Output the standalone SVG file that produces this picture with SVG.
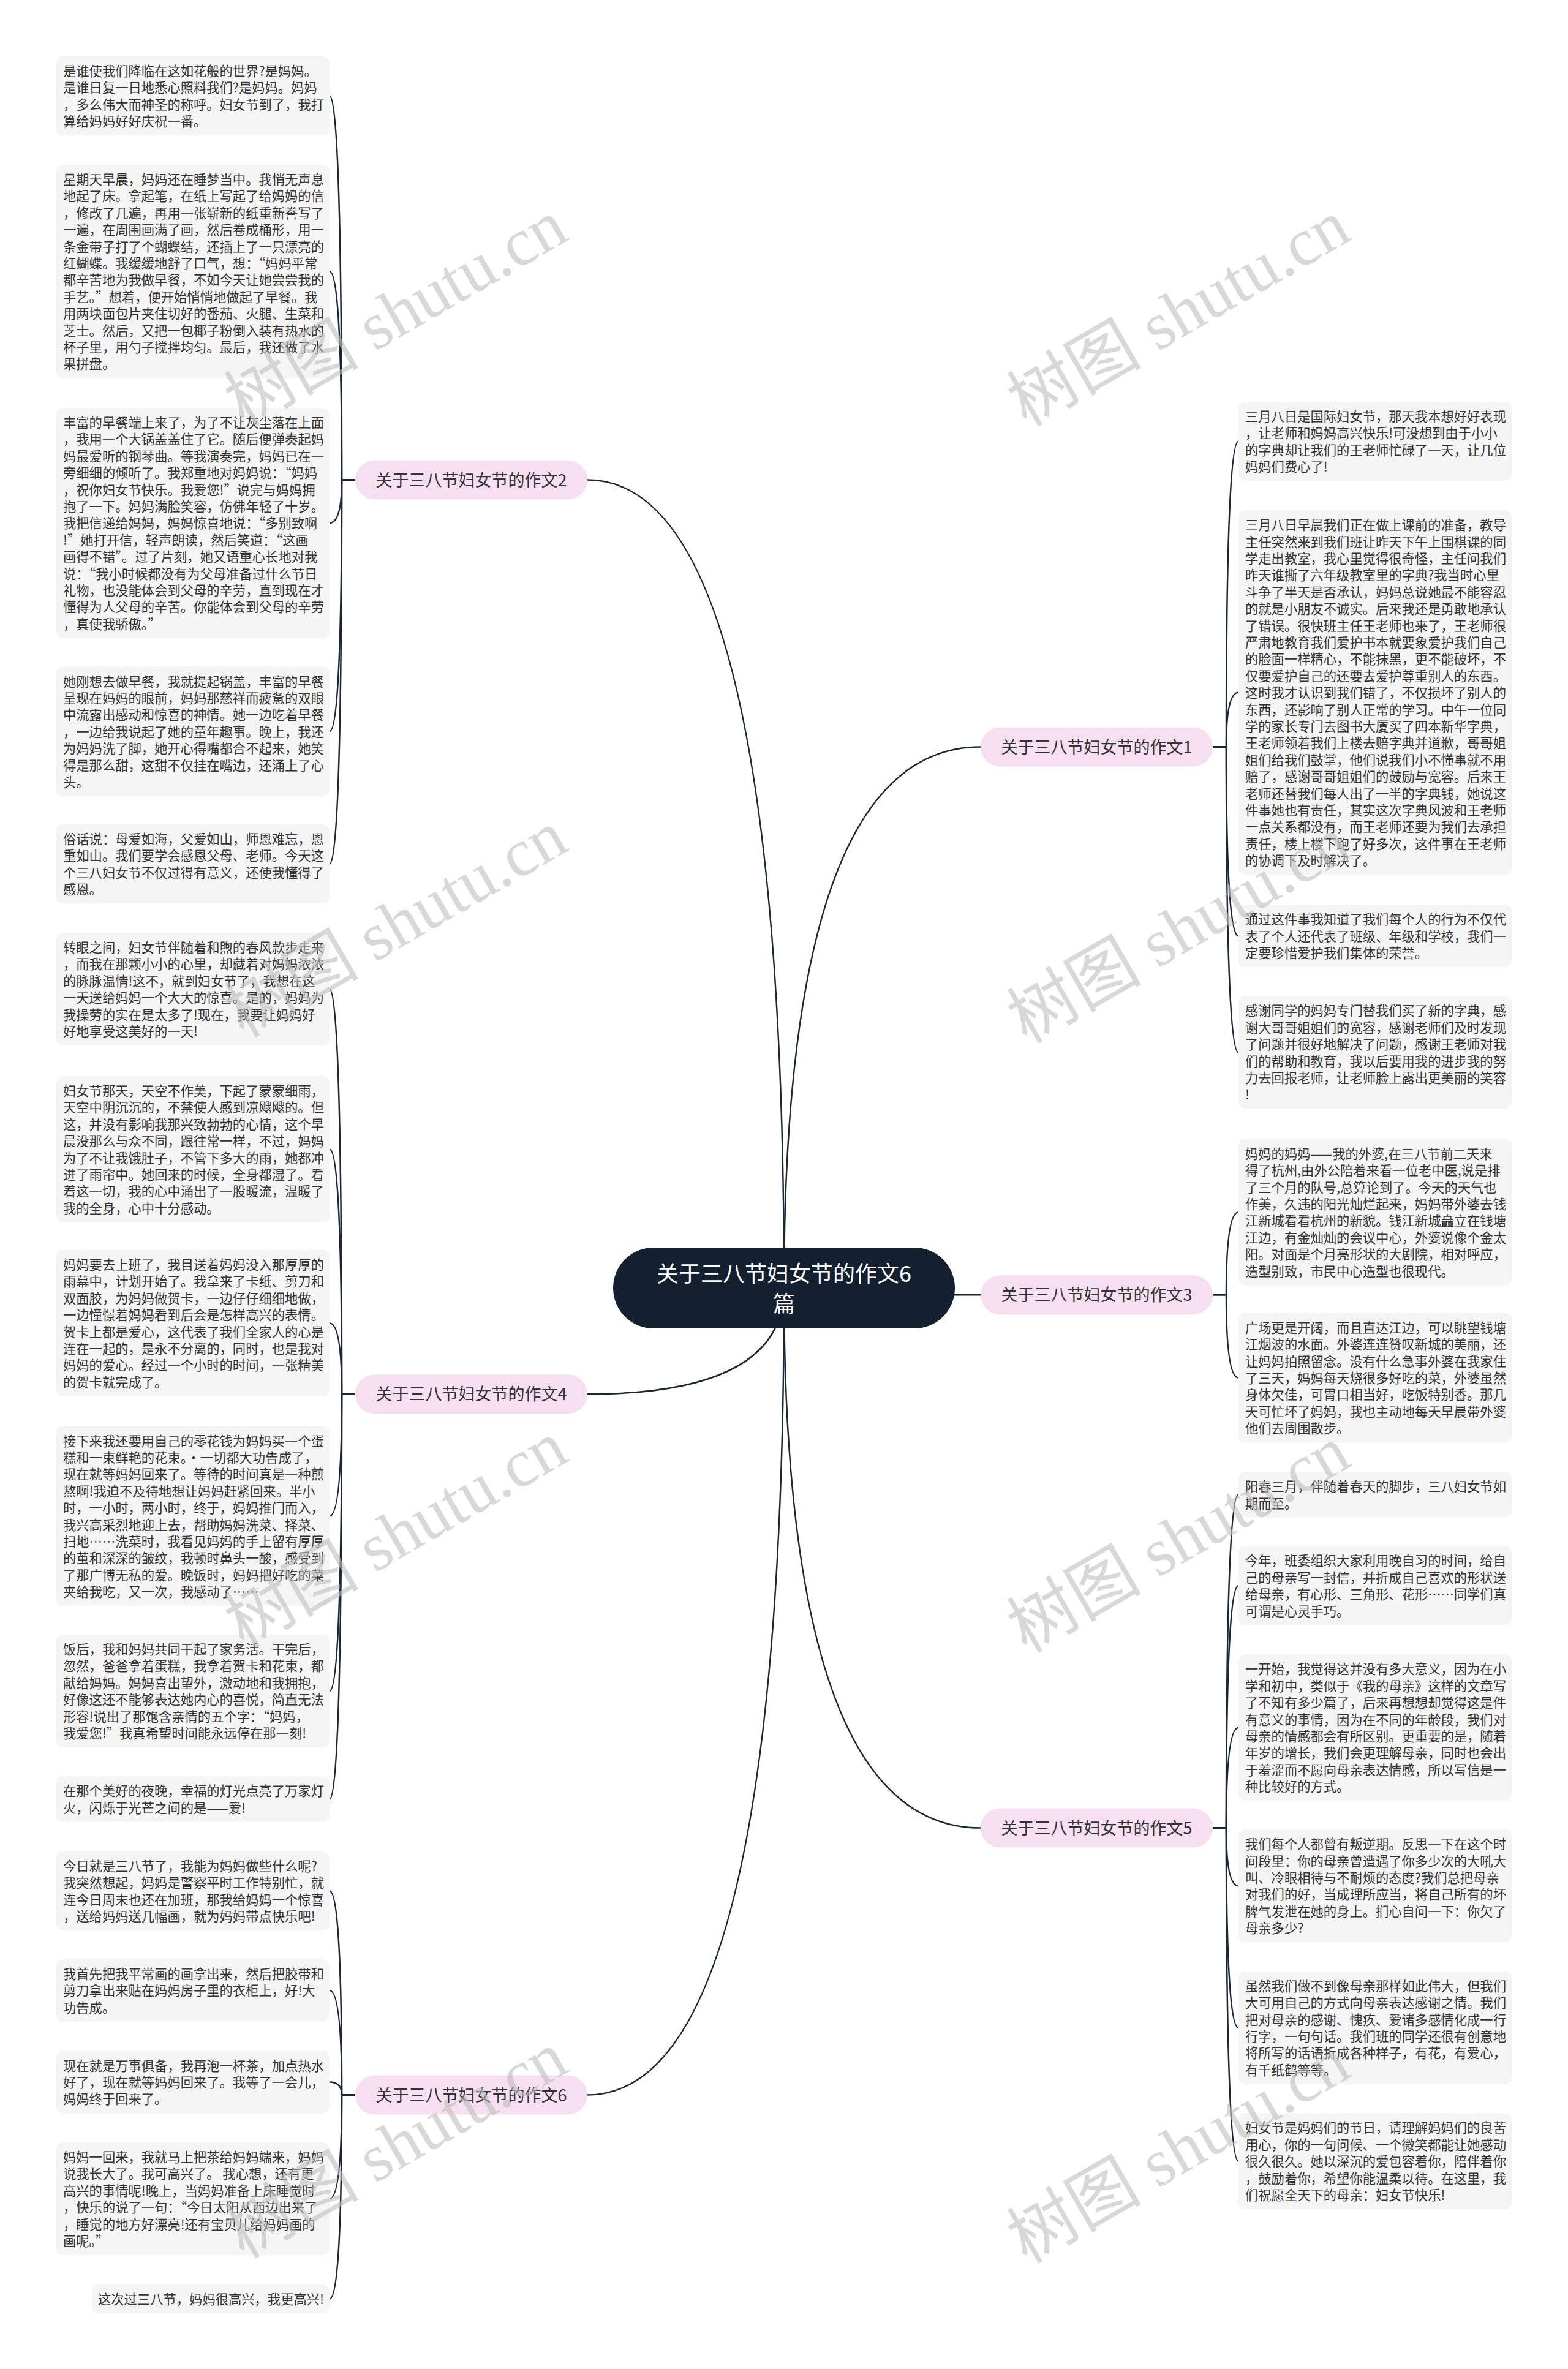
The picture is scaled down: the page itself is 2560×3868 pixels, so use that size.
<svg xmlns="http://www.w3.org/2000/svg" width="2560" height="3868" viewBox="0 0 2560 3868">
<style>
.bg{fill:#ffffff}
.box{fill:#f5f5f5}
.t{font-family:"Noto Sans CJK SC","Liberation Sans",sans-serif;font-size:21.3px;fill:#333333}
.br{fill:#f6dff0}
.bt{font-family:"Noto Sans CJK SC","Liberation Sans",sans-serif;font-size:27px;fill:#333333;text-anchor:middle}
.cn{fill:#142030}
.ct{font-family:"Noto Sans CJK SC","Liberation Sans",sans-serif;font-size:36px;fill:#ffffff;text-anchor:middle}
.ln{fill:none;stroke:#1b2636;stroke-width:2.5}
.wm{font-family:"Liberation Serif","Noto Sans CJK SC",serif;font-size:110px;fill:#bfbfbf;opacity:0.6;text-anchor:middle}
</style>
<rect class="bg" x="0" y="0" width="2560" height="3868"/>
<g id="connectors">
<path class="ln" d="M1280,2103 Q1280,1219.5 1601,1219.5"/>
<path class="ln" d="M1280,2103 Q1280,2114.3 1601,2114.3"/>
<path class="ln" d="M1280,2103 Q1280,2984.6 1601,2984.6"/>
<path class="ln" d="M1280,2103 Q1280,783.6 959,783.6"/>
<path class="ln" d="M1280,2103 Q1280,2276.3 959,2276.3"/>
<path class="ln" d="M1280,2103 Q1280,3420.5 959,3420.5"/>
<path class="ln" d="M580,783.6 L558,783.6 Q558,156.6 538,156.6"/>
<path class="ln" d="M580,783.6 L558,783.6 Q558,443.2 538,443.2"/>
<path class="ln" d="M580,783.6 L558,783.6 Q558,853.9 538,853.9"/>
<path class="ln" d="M580,783.6 L558,783.6 Q558,1194.2 538,1194.2"/>
<path class="ln" d="M580,783.6 L558,783.6 Q558,1410.6 538,1410.6"/>
<path class="ln" d="M580,2276.3 L558,2276.3 Q558,1615 538,1615"/>
<path class="ln" d="M580,2276.3 L558,2276.3 Q558,1876.4 538,1876.4"/>
<path class="ln" d="M580,2276.3 L558,2276.3 Q558,2160.4 538,2160.4"/>
<path class="ln" d="M580,2276.3 L558,2276.3 Q558,2475.4 538,2475.4"/>
<path class="ln" d="M580,2276.3 L558,2276.3 Q558,2761 538,2761"/>
<path class="ln" d="M580,2276.3 L558,2276.3 Q558,2937.6 538,2937.6"/>
<path class="ln" d="M580,3420.5 L558,3420.5 Q558,3087.6 538,3087.6"/>
<path class="ln" d="M580,3420.5 L558,3420.5 Q558,3249.9 538,3249.9"/>
<path class="ln" d="M580,3420.5 L558,3420.5 Q558,3399.5 538,3399.5"/>
<path class="ln" d="M580,3420.5 L558,3420.5 Q558,3590 538,3590"/>
<path class="ln" d="M580,3420.5 L558,3420.5 Q558,3753.5 538,3753.5"/>
<path class="ln" d="M1980,1219.5 L2002,1219.5 Q2002,720.6 2022,720.6"/>
<path class="ln" d="M1980,1219.5 L2002,1219.5 Q2002,1130.7 2022,1130.7"/>
<path class="ln" d="M1980,1219.5 L2002,1219.5 Q2002,1528.3 2022,1528.3"/>
<path class="ln" d="M1980,1219.5 L2002,1219.5 Q2002,1718.3 2022,1718.3"/>
<path class="ln" d="M1980,2114.3 L2002,2114.3 Q2002,1979.2 2022,1979.2"/>
<path class="ln" d="M1980,2114.3 L2002,2114.3 Q2002,2249.5 2022,2249.5"/>
<path class="ln" d="M1980,2984.6 L2002,2984.6 Q2002,2440.6 2022,2440.6"/>
<path class="ln" d="M1980,2984.6 L2002,2984.6 Q2002,2588.9 2022,2588.9"/>
<path class="ln" d="M1980,2984.6 L2002,2984.6 Q2002,2820.8 2022,2820.8"/>
<path class="ln" d="M1980,2984.6 L2002,2984.6 Q2002,3079.2 2022,3079.2"/>
<path class="ln" d="M1980,2984.6 L2002,2984.6 Q2002,3310.8 2022,3310.8"/>
<path class="ln" d="M1980,2984.6 L2002,2984.6 Q2002,3528.6 2022,3528.6"/>
</g>
<g id="root">
<rect class="cn" x="1001" y="2037" width="558" height="132" rx="66"/>
<text class="ct" x="1280" y="2093">关于三八节妇女节的作文6</text>
<text class="ct" x="1280" y="2142">篇</text>
</g>
<g id="branch1"><rect class="br" x="1601" y="1187.5" width="379" height="64" rx="32"/><text class="bt" x="1790.5" y="1229.5">关于三八节妇女节的作文1</text></g>
<g id="branch3"><rect class="br" x="1601" y="2082.3" width="379" height="64" rx="32"/><text class="bt" x="1790.5" y="2124.3">关于三八节妇女节的作文3</text></g>
<g id="branch5"><rect class="br" x="1601" y="2952.6" width="379" height="64" rx="32"/><text class="bt" x="1790.5" y="2994.6">关于三八节妇女节的作文5</text></g>
<g id="branch2"><rect class="br" x="580" y="751.6" width="379" height="64" rx="32"/><text class="bt" x="769.5" y="793.6">关于三八节妇女节的作文2</text></g>
<g id="branch4"><rect class="br" x="580" y="2244.3" width="379" height="64" rx="32"/><text class="bt" x="769.5" y="2286.3">关于三八节妇女节的作文4</text></g>
<g id="branch6"><rect class="br" x="580" y="3388.5" width="379" height="64" rx="32"/><text class="bt" x="769.5" y="3430.5">关于三八节妇女节的作文6</text></g>

<g id="a1"><rect class="box" x="92" y="92" width="446" height="129.2" rx="10"/>
<text class="t" y="124"><tspan x="103">是谁使我们降临在这如花般的世界?是妈妈。</tspan><tspan x="103" dy="27.4">是谁日复一日地悉心照料我们?是妈妈。妈妈</tspan><tspan x="103" dy="27.4">，多么伟大而神圣的称呼。妇女节到了，我打</tspan><tspan x="103" dy="27.4">算给妈妈好好庆祝一番。</tspan></text></g>
<g id="a2"><rect class="box" x="92" y="269" width="446" height="348.4" rx="10"/>
<text class="t" y="301"><tspan x="103">星期天早晨，妈妈还在睡梦当中。我悄无声息</tspan><tspan x="103" dy="27.4">地起了床。拿起笔，在纸上写起了给妈妈的信</tspan><tspan x="103" dy="27.4">，修改了几遍，再用一张崭新的纸重新誊写了</tspan><tspan x="103" dy="27.4">一遍，在周围画满了画，然后卷成桶形，用一</tspan><tspan x="103" dy="27.4">条金带子打了个蝴蝶结，还插上了一只漂亮的</tspan><tspan x="103" dy="27.4">红蝴蝶。我缓缓地舒了口气，想：“妈妈平常</tspan><tspan x="103" dy="27.4">都辛苦地为我做早餐，不如今天让她尝尝我的</tspan><tspan x="103" dy="27.4">手艺。”想着，便开始悄悄地做起了早餐。我</tspan><tspan x="103" dy="27.4">用两块面包片夹住切好的番茄、火腿、生菜和</tspan><tspan x="103" dy="27.4">芝士。然后，又把一包椰子粉倒入装有热水的</tspan><tspan x="103" dy="27.4">杯子里，用勺子搅拌均匀。最后，我还做了水</tspan><tspan x="103" dy="27.4">果拼盘。</tspan></text></g>
<g id="a3"><rect class="box" x="92" y="666" width="446" height="375.8" rx="10"/>
<text class="t" y="698"><tspan x="103">丰富的早餐端上来了，为了不让灰尘落在上面</tspan><tspan x="103" dy="27.4">，我用一个大锅盖盖住了它。随后便弹奏起妈</tspan><tspan x="103" dy="27.4">妈最爱听的钢琴曲。等我演奏完，妈妈已在一</tspan><tspan x="103" dy="27.4">旁细细的倾听了。我郑重地对妈妈说：“妈妈</tspan><tspan x="103" dy="27.4">，祝你妇女节快乐。我爱您!”说完与妈妈拥</tspan><tspan x="103" dy="27.4">抱了一下。妈妈满脸笑容，仿佛年轻了十岁。</tspan><tspan x="103" dy="27.4">我把信递给妈妈，妈妈惊喜地说：“多别致啊</tspan><tspan x="103" dy="27.4">!”她打开信，轻声朗读，然后笑道：“这画</tspan><tspan x="103" dy="27.4">画得不错”。过了片刻，她又语重心长地对我</tspan><tspan x="103" dy="27.4">说：“我小时候都没有为父母准备过什么节日</tspan><tspan x="103" dy="27.4">礼物，也没能体会到父母的辛劳，直到现在才</tspan><tspan x="103" dy="27.4">懂得为人父母的辛苦。你能体会到父母的辛劳</tspan><tspan x="103" dy="27.4">，真使我骄傲。”</tspan></text></g>
<g id="a4"><rect class="box" x="92" y="1088.5" width="446" height="211.4" rx="10"/>
<text class="t" y="1120.5"><tspan x="103">她刚想去做早餐，我就提起锅盖，丰富的早餐</tspan><tspan x="103" dy="27.4">呈现在妈妈的眼前，妈妈那慈祥而疲惫的双眼</tspan><tspan x="103" dy="27.4">中流露出感动和惊喜的神情。她一边吃着早餐</tspan><tspan x="103" dy="27.4">，一边给我说起了她的童年趣事。晚上，我还</tspan><tspan x="103" dy="27.4">为妈妈洗了脚，她开心得嘴都合不起来，她笑</tspan><tspan x="103" dy="27.4">得是那么甜，这甜不仅挂在嘴边，还涌上了心</tspan><tspan x="103" dy="27.4">头。</tspan></text></g>
<g id="a5"><rect class="box" x="92" y="1346" width="446" height="129.2" rx="10"/>
<text class="t" y="1378"><tspan x="103">俗话说：母爱如海，父爱如山，师恩难忘，恩</tspan><tspan x="103" dy="27.4">重如山。我们要学会感恩父母、老师。今天这</tspan><tspan x="103" dy="27.4">个三八妇女节不仅过得有意义，还使我懂得了</tspan><tspan x="103" dy="27.4">感恩。</tspan></text></g>

<g id="b1"><rect class="box" x="92" y="1523" width="446" height="184" rx="10"/>
<text class="t" y="1555"><tspan x="103">转眼之间，妇女节伴随着和煦的春风款步走来</tspan><tspan x="103" dy="27.4">，而我在那颗小小的心里，却藏着对妈妈浓浓</tspan><tspan x="103" dy="27.4">的脉脉温情!这不，就到妇女节了，我想在这</tspan><tspan x="103" dy="27.4">一天送给妈妈一个大大的惊喜。是的，妈妈为</tspan><tspan x="103" dy="27.4">我操劳的实在是太多了!现在，我要让妈妈好</tspan><tspan x="103" dy="27.4">好地享受这美好的一天!</tspan></text></g>
<g id="b2"><rect class="box" x="92" y="1757" width="446" height="238.8" rx="10"/>
<text class="t" y="1789"><tspan x="103">妇女节那天，天空不作美，下起了蒙蒙细雨，</tspan><tspan x="103" dy="27.4">天空中阴沉沉的，不禁使人感到凉飕飕的。但</tspan><tspan x="103" dy="27.4">这，并没有影响我那兴致勃勃的心情，这个早</tspan><tspan x="103" dy="27.4">晨没那么与众不同，跟往常一样，不过，妈妈</tspan><tspan x="103" dy="27.4">为了不让我饿肚子，不管下多大的雨，她都冲</tspan><tspan x="103" dy="27.4">进了雨帘中。她回来的时候，全身都湿了。看</tspan><tspan x="103" dy="27.4">着这一切，我的心中涌出了一股暖流，温暖了</tspan><tspan x="103" dy="27.4">我的全身，心中十分感动。</tspan></text></g>
<g id="b3"><rect class="box" x="92" y="2041" width="446" height="238.8" rx="10"/>
<text class="t" y="2073"><tspan x="103">妈妈要去上班了，我目送着妈妈没入那厚厚的</tspan><tspan x="103" dy="27.4">雨幕中，计划开始了。我拿来了卡纸、剪刀和</tspan><tspan x="103" dy="27.4">双面胶，为妈妈做贺卡，一边仔仔细细地做，</tspan><tspan x="103" dy="27.4">一边憧憬着妈妈看到后会是怎样高兴的表情。</tspan><tspan x="103" dy="27.4">贺卡上都是爱心，这代表了我们全家人的心是</tspan><tspan x="103" dy="27.4">连在一起的，是永不分离的，同时，也是我对</tspan><tspan x="103" dy="27.4">妈妈的爱心。经过一个小时的时间，一张精美</tspan><tspan x="103" dy="27.4">的贺卡就完成了。</tspan></text></g>
<g id="b4"><rect class="box" x="92" y="2328.6" width="446" height="293.6" rx="10"/>
<text class="t" y="2360.6"><tspan x="103">接下来我还要用自己的零花钱为妈妈买一个蛋</tspan><tspan x="103" dy="27.4">糕和一束鲜艳的花束。·一切都大功告成了，</tspan><tspan x="103" dy="27.4">现在就等妈妈回来了。等待的时间真是一种煎</tspan><tspan x="103" dy="27.4">熬啊!我迫不及待地想让妈妈赶紧回来。半小</tspan><tspan x="103" dy="27.4">时，一小时，两小时，终于，妈妈推门而入，</tspan><tspan x="103" dy="27.4">我兴高采烈地迎上去，帮助妈妈洗菜、择菜、</tspan><tspan x="103" dy="27.4">扫地……洗菜时，我看见妈妈的手上留有厚厚</tspan><tspan x="103" dy="27.4">的茧和深深的皱纹，我顿时鼻头一酸，感受到</tspan><tspan x="103" dy="27.4">了那广博无私的爱。晚饭时，妈妈把好吃的菜</tspan><tspan x="103" dy="27.4">夹给我吃，又一次，我感动了……</tspan></text></g>
<g id="b5"><rect class="box" x="92" y="2669" width="446" height="184" rx="10"/>
<text class="t" y="2701"><tspan x="103">饭后，我和妈妈共同干起了家务活。干完后，</tspan><tspan x="103" dy="27.4">忽然，爸爸拿着蛋糕，我拿着贺卡和花束，都</tspan><tspan x="103" dy="27.4">献给妈妈。妈妈喜出望外，激动地和我拥抱，</tspan><tspan x="103" dy="27.4">好像这还不能够表达她内心的喜悦，简直无法</tspan><tspan x="103" dy="27.4">形容!说出了那饱含亲情的五个字：“妈妈，</tspan><tspan x="103" dy="27.4">我爱您!”我真希望时间能永远停在那一刻!</tspan></text></g>
<g id="b6"><rect class="box" x="92" y="2900.4" width="446" height="74.4" rx="10"/>
<text class="t" y="2932.4"><tspan x="103">在那个美好的夜晚，幸福的灯光点亮了万家灯</tspan><tspan x="103" dy="27.4">火，闪烁于光芒之间的是——爱!</tspan></text></g>

<g id="c1"><rect class="box" x="92" y="3023" width="446" height="129.2" rx="10"/>
<text class="t" y="3055"><tspan x="103">今日就是三八节了，我能为妈妈做些什么呢?</tspan><tspan x="103" dy="27.4">我突然想起，妈妈是警察平时工作特别忙，就</tspan><tspan x="103" dy="27.4">连今日周末也还在加班，那我给妈妈一个惊喜</tspan><tspan x="103" dy="27.4">，送给妈妈送几幅画，就为妈妈带点快乐吧!</tspan></text></g>
<g id="c2"><rect class="box" x="92" y="3199" width="446" height="101.8" rx="10"/>
<text class="t" y="3231"><tspan x="103">我首先把我平常画的画拿出来，然后把胶带和</tspan><tspan x="103" dy="27.4">剪刀拿出来贴在妈妈房子里的衣柜上，好!大</tspan><tspan x="103" dy="27.4">功告成。</tspan></text></g>
<g id="c3"><rect class="box" x="92" y="3348.6" width="446" height="101.8" rx="10"/>
<text class="t" y="3380.6"><tspan x="103">现在就是万事俱备，我再泡一杯茶，加点热水</tspan><tspan x="103" dy="27.4">好了，现在就等妈妈回来了。我等了一会儿，</tspan><tspan x="103" dy="27.4">妈妈终于回来了。</tspan></text></g>
<g id="c4"><rect class="box" x="92" y="3498" width="446" height="184" rx="10"/>
<text class="t" y="3530"><tspan x="103">妈妈一回来，我就马上把茶给妈妈端来，妈妈</tspan><tspan x="103" dy="27.4">说我长大了。我可高兴了。 我心想，还有更</tspan><tspan x="103" dy="27.4">高兴的事情呢!晚上，当妈妈准备上床睡觉时</tspan><tspan x="103" dy="27.4">，快乐的说了一句：“今日太阳从西边出来了</tspan><tspan x="103" dy="27.4">，睡觉的地方好漂亮!还有宝贝儿给妈妈画的</tspan><tspan x="103" dy="27.4">画呢。”</tspan></text></g>
<g id="c5"><rect class="box" x="150" y="3730" width="388" height="47" rx="10"/>
<text class="t" y="3762"><tspan x="160">这次过三八节，妈妈很高兴，我更高兴!</tspan></text></g>

<g id="d1"><rect class="box" x="2022" y="656" width="446" height="129.2" rx="10"/>
<text class="t" y="688"><tspan x="2033">三月八日是国际妇女节，那天我本想好好表现</tspan><tspan x="2033" dy="27.4">，让老师和妈妈高兴快乐!可没想到由于小小</tspan><tspan x="2033" dy="27.4">的字典却让我们的王老师忙碌了一天，让几位</tspan><tspan x="2033" dy="27.4">妈妈们费心了!</tspan></text></g>
<g id="d2"><rect class="box" x="2022" y="833.2" width="446" height="595" rx="10"/>
<text class="t" y="865.2"><tspan x="2033">三月八日早晨我们正在做上课前的准备，教导</tspan><tspan x="2033" dy="27.4">主任突然来到我们班让昨天下午上围棋课的同</tspan><tspan x="2033" dy="27.4">学走出教室，我心里觉得很奇怪，主任问我们</tspan><tspan x="2033" dy="27.4">昨天谁撕了六年级教室里的字典?我当时心里</tspan><tspan x="2033" dy="27.4">斗争了半天是否承认，妈妈总说她最不能容忍</tspan><tspan x="2033" dy="27.4">的就是小朋友不诚实。后来我还是勇敢地承认</tspan><tspan x="2033" dy="27.4">了错误。很快班主任王老师也来了，王老师很</tspan><tspan x="2033" dy="27.4">严肃地教育我们爱护书本就要象爱护我们自己</tspan><tspan x="2033" dy="27.4">的脸面一样精心，不能抹黑，更不能破坏，不</tspan><tspan x="2033" dy="27.4">仅要爱护自己的还要去爱护尊重别人的东西。</tspan><tspan x="2033" dy="27.4">这时我才认识到我们错了，不仅损坏了别人的</tspan><tspan x="2033" dy="27.4">东西，还影响了别人正常的学习。中午一位同</tspan><tspan x="2033" dy="27.4">学的家长专门去图书大厦买了四本新华字典，</tspan><tspan x="2033" dy="27.4">王老师领着我们上楼去赔字典并道歉，哥哥姐</tspan><tspan x="2033" dy="27.4">姐们给我们鼓掌，他们说我们小不懂事就不用</tspan><tspan x="2033" dy="27.4">赔了，感谢哥哥姐姐们的鼓励与宽容。后来王</tspan><tspan x="2033" dy="27.4">老师还替我们每人出了一半的字典钱，她说这</tspan><tspan x="2033" dy="27.4">件事她也有责任，其实这次字典风波和王老师</tspan><tspan x="2033" dy="27.4">一点关系都没有，而王老师还要为我们去承担</tspan><tspan x="2033" dy="27.4">责任，楼上楼下跑了好多次，这件事在王老师</tspan><tspan x="2033" dy="27.4">的协调下及时解决了。</tspan></text></g>
<g id="d3"><rect class="box" x="2022" y="1477.4" width="446" height="101.8" rx="10"/>
<text class="t" y="1509.4"><tspan x="2033">通过这件事我知道了我们每个人的行为不仅代</tspan><tspan x="2033" dy="27.4">表了个人还代表了班级、年级和学校，我们一</tspan><tspan x="2033" dy="27.4">定要珍惜爱护我们集体的荣誉。</tspan></text></g>
<g id="d4"><rect class="box" x="2022" y="1626.3" width="446" height="184" rx="10"/>
<text class="t" y="1658.3"><tspan x="2033">感谢同学的妈妈专门替我们买了新的字典，感</tspan><tspan x="2033" dy="27.4">谢大哥哥姐姐们的宽容，感谢老师们及时发现</tspan><tspan x="2033" dy="27.4">了问题并很好地解决了问题，感谢王老师对我</tspan><tspan x="2033" dy="27.4">们的帮助和教育，我以后要用我的进步我的努</tspan><tspan x="2033" dy="27.4">力去回报老师，让老师脸上露出更美丽的笑容</tspan><tspan x="2033" dy="27.4">!</tspan></text></g>

<g id="e1"><rect class="box" x="2022" y="1859.8" width="446" height="238.8" rx="10"/>
<text class="t" y="1891.8"><tspan x="2033">妈妈的妈妈——我的外婆,在三八节前二天来</tspan><tspan x="2033" dy="27.4">得了杭州,由外公陪着来看一位老中医,说是排</tspan><tspan x="2033" dy="27.4">了三个月的队号,总算论到了。今天的天气也</tspan><tspan x="2033" dy="27.4">作美，久违的阳光灿烂起来，妈妈带外婆去钱</tspan><tspan x="2033" dy="27.4">江新城看看杭州的新貌。钱江新城矗立在钱塘</tspan><tspan x="2033" dy="27.4">江边，有金灿灿的会议中心，外婆说像个金太</tspan><tspan x="2033" dy="27.4">阳。对面是个月亮形状的大剧院，相对呼应，</tspan><tspan x="2033" dy="27.4">造型别致，市民中心造型也很现代。</tspan></text></g>
<g id="e2"><rect class="box" x="2022" y="2143.8" width="446" height="211.4" rx="10"/>
<text class="t" y="2175.8"><tspan x="2033">广场更是开阔，而且直达江边，可以眺望钱塘</tspan><tspan x="2033" dy="27.4">江烟波的水面。外婆连连赞叹新城的美丽，还</tspan><tspan x="2033" dy="27.4">让妈妈拍照留念。没有什么急事外婆在我家住</tspan><tspan x="2033" dy="27.4">了三天，妈妈每天烧很多好吃的菜，外婆虽然</tspan><tspan x="2033" dy="27.4">身体欠佳，可胃口相当好，吃饭特别香。那几</tspan><tspan x="2033" dy="27.4">天可忙坏了妈妈，我也主动地每天早晨带外婆</tspan><tspan x="2033" dy="27.4">他们去周围散步。</tspan></text></g>

<g id="f1"><rect class="box" x="2022" y="2403.4" width="446" height="74.4" rx="10"/>
<text class="t" y="2435.4"><tspan x="2033">阳春三月，伴随着春天的脚步，三八妇女节如</tspan><tspan x="2033" dy="27.4">期而至。</tspan></text></g>
<g id="f2"><rect class="box" x="2022" y="2524.3" width="446" height="129.2" rx="10"/>
<text class="t" y="2556.3"><tspan x="2033">今年，班委组织大家利用晚自习的时间，给自</tspan><tspan x="2033" dy="27.4">己的母亲写一封信，并折成自己喜欢的形状送</tspan><tspan x="2033" dy="27.4">给母亲，有心形、三角形、花形……同学们真</tspan><tspan x="2033" dy="27.4">可谓是心灵手巧。</tspan></text></g>
<g id="f3"><rect class="box" x="2022" y="2701.4" width="446" height="238.8" rx="10"/>
<text class="t" y="2733.4"><tspan x="2033">一开始，我觉得这并没有多大意义，因为在小</tspan><tspan x="2033" dy="27.4">学和初中，类似于《我的母亲》这样的文章写</tspan><tspan x="2033" dy="27.4">了不知有多少篇了，后来再想想却觉得这是件</tspan><tspan x="2033" dy="27.4">有意义的事情，因为在不同的年龄段，我们对</tspan><tspan x="2033" dy="27.4">母亲的情感都会有所区别。更重要的是，随着</tspan><tspan x="2033" dy="27.4">年岁的增长，我们会更理解母亲，同时也会出</tspan><tspan x="2033" dy="27.4">于羞涩而不愿向母亲表达情感，所以写信是一</tspan><tspan x="2033" dy="27.4">种比较好的方式。</tspan></text></g>
<g id="f4"><rect class="box" x="2022" y="2987.2" width="446" height="184" rx="10"/>
<text class="t" y="3019.2"><tspan x="2033">我们每个人都曾有叛逆期。反思一下在这个时</tspan><tspan x="2033" dy="27.4">间段里：你的母亲曾遭遇了你多少次的大吼大</tspan><tspan x="2033" dy="27.4">叫、冷眼相待与不耐烦的态度?我们总把母亲</tspan><tspan x="2033" dy="27.4">对我们的好，当成理所应当，将自己所有的坏</tspan><tspan x="2033" dy="27.4">脾气发泄在她的身上。扪心自问一下：你欠了</tspan><tspan x="2033" dy="27.4">母亲多少?</tspan></text></g>
<g id="f5"><rect class="box" x="2022" y="3218.8" width="446" height="184" rx="10"/>
<text class="t" y="3250.8"><tspan x="2033">虽然我们做不到像母亲那样如此伟大，但我们</tspan><tspan x="2033" dy="27.4">大可用自己的方式向母亲表达感谢之情。我们</tspan><tspan x="2033" dy="27.4">把对母亲的感谢、愧疚、爱诸多感情化成一行</tspan><tspan x="2033" dy="27.4">行字，一句句话。我们班的同学还很有创意地</tspan><tspan x="2033" dy="27.4">将所写的话语折成各种样子，有花，有爱心，</tspan><tspan x="2033" dy="27.4">有千纸鹤等等。</tspan></text></g>
<g id="f6"><rect class="box" x="2022" y="3450.3" width="446" height="156.6" rx="10"/>
<text class="t" y="3482.3"><tspan x="2033">妇女节是妈妈们的节日，请理解妈妈们的良苦</tspan><tspan x="2033" dy="27.4">用心，你的一句问候、一个微笑都能让她感动</tspan><tspan x="2033" dy="27.4">很久很久。她以深沉的爱包容着你，陪伴着你</tspan><tspan x="2033" dy="27.4">，鼓励着你，希望你能温柔以待。在这里，我</tspan><tspan x="2033" dy="27.4">们祝愿全天下的母亲：妇女节快乐!</tspan></text></g>

<g id="watermarks">
<text class="wm" x="646" y="549" transform="rotate(-30 646 511)">树图 shutu.cn</text>
<text class="wm" x="1924" y="549" transform="rotate(-30 1924 511)">树图 shutu.cn</text>
<text class="wm" x="646" y="1546" transform="rotate(-30 646 1508)">树图 shutu.cn</text>
<text class="wm" x="1924" y="1556" transform="rotate(-30 1924 1518)">树图 shutu.cn</text>
<text class="wm" x="646" y="2543" transform="rotate(-30 646 2505)">树图 shutu.cn</text>
<text class="wm" x="1924" y="2551" transform="rotate(-30 1924 2513)">树图 shutu.cn</text>
<text class="wm" x="646" y="3540" transform="rotate(-30 646 3502)">树图 shutu.cn</text>
<text class="wm" x="1924" y="3548" transform="rotate(-30 1924 3510)">树图 shutu.cn</text>
</g>
</svg>
